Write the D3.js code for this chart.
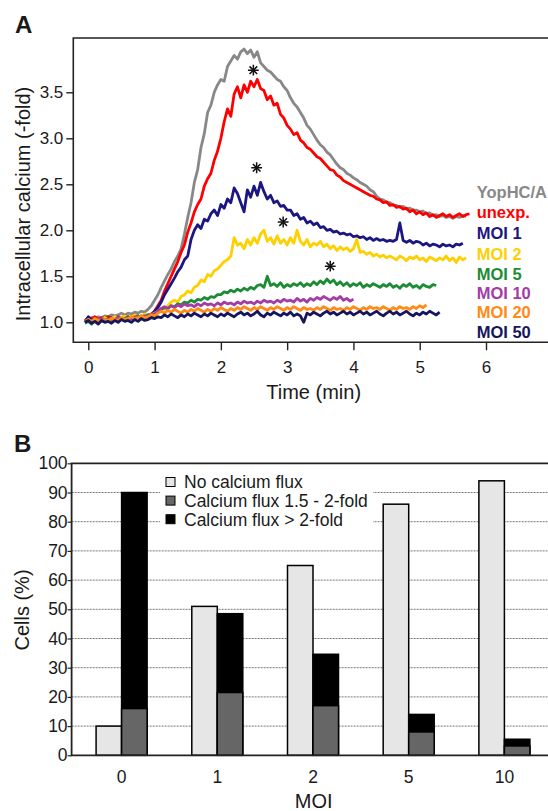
<!DOCTYPE html>
<html lang="en">
<head>
<meta charset="utf-8">
<title>Intracellular calcium</title>
<script src="https://cdn.jsdelivr.net/npm/d3@7"></script>
<style>
  body { margin: 0; background: #fff; }
  svg text { font-family: "Liberation Sans", Arial, Helvetica, sans-serif; fill: #1a1a1a; }
</style>
</head>
<body>
<svg id="chart" width="548" height="811"></svg>
<script>
// ---- Panel A: traces, one value every 0.05 min starting at t = -0.05
const t0 = -0.05;
const dt = 0.05;

const yopHC = [1.00,1.03,1.05,1.04,1.06,1.05,1.07,1.06,1.08,1.07,1.08,1.10,1.08,1.10,1.09,1.11,1.10,1.12,1.11,1.14,1.18,1.24,
  1.30,1.38,1.45,1.52,1.58,1.66,1.72,1.80,1.96,2.14,
  2.30,2.52,2.66,2.90,3.05,3.28,3.36,3.50,3.58,3.64,
  3.62,3.78,3.84,3.90,3.86,3.94,3.97,3.92,3.96,3.88,
  3.94,3.82,3.78,3.74,3.72,3.68,3.64,3.62,3.56,3.52,
  3.44,3.38,3.34,3.28,3.22,3.14,3.10,3.04,2.98,2.93,
  2.90,2.85,2.82,2.77,2.72,2.68,2.66,2.62,2.60,2.57,
  2.55,2.52,2.50,2.48,2.44,2.42,2.37,2.34,2.33,2.30,
  2.30,2.27,2.27,2.25,2.26,2.23,2.24,2.22,2.22,2.20,
  2.21,2.18,2.19,2.16,2.17,2.15,2.16,2.14,2.15,2.13,
  2.15,2.14,2.16,2.15];

const unexp = [1.02,1.05,1.04,1.06,1.03,1.05,1.04,1.06,1.05,1.04,1.06,1.05,1.07,1.05,1.06,1.08,1.06,1.07,1.08,1.07,1.09,1.12,
  1.18,1.24,1.34,1.42,1.50,1.58,1.66,1.76,1.84,1.98,
  2.08,2.20,2.28,2.34,2.48,2.56,2.62,2.76,2.86,3.00,
  3.18,3.32,3.24,3.48,3.56,3.44,3.58,3.50,3.62,3.56,
  3.64,3.54,3.52,3.42,3.46,3.36,3.38,3.26,3.22,3.14,
  3.10,3.04,3.06,2.98,2.95,2.90,2.88,2.84,2.80,2.78,
  2.74,2.70,2.66,2.65,2.60,2.58,2.54,2.52,2.50,2.48,
  2.46,2.44,2.42,2.40,2.38,2.37,2.34,2.33,2.30,2.31,
  2.27,2.28,2.25,2.26,2.23,2.24,2.20,2.22,2.18,2.20,
  2.17,2.19,2.15,2.17,2.14,2.16,2.18,2.15,2.17,2.14,
  2.16,2.18,2.15,2.17,2.18];

const moi1 = [1.00,1.06,1.02,1.04,1.01,1.03,1.02,1.04,1.03,1.02,1.05,1.03,1.04,1.06,1.04,1.05,1.07,1.05,1.06,1.08,1.07,
  1.12,1.16,1.22,1.30,1.36,1.42,1.48,1.55,1.60,1.68,
  1.72,1.90,2.00,2.06,2.02,2.12,2.10,2.18,2.22,2.16,
  2.28,2.24,2.34,2.30,2.46,2.40,2.30,2.20,2.44,2.36,
  2.48,2.38,2.52,2.42,2.34,2.38,2.30,2.32,2.26,2.27,
  2.22,
  2.22,2.16,2.18,2.12,2.14,2.08,2.10,2.06,2.08,2.03,
  2.04,2.00,2.01,1.98,1.99,1.96,1.97,1.95,1.96,1.93,
  1.94,1.92,1.93,1.90,1.92,1.89,1.91,1.89,1.90,1.88,
  1.89,1.88,1.90,2.08,1.89,1.87,1.89,1.86,1.88,1.87,
  1.84,1.86,1.83,1.85,1.84,1.82,1.85,1.83,1.84,1.82,
  1.85,1.84,1.86];

const moi2 = [1.00,1.03,1.01,1.04,1.02,1.03,1.05,1.03,1.04,1.06,1.04,1.05,1.07,1.05,1.06,1.08,1.06,1.07,1.09,1.07,1.08,1.10,
  1.12,1.15,1.14,1.18,1.22,1.24,1.22,1.28,1.30,1.34,
  1.32,1.38,1.40,1.46,1.44,1.52,1.50,1.56,1.58,1.62,
  1.66,1.68,1.72,1.92,1.84,1.86,1.80,1.90,1.84,1.92,
  1.86,1.96,2.00,1.88,1.92,1.85,1.94,1.86,1.90,1.84,
  1.92,1.86,2.00,1.88,1.84,1.90,1.82,1.86,1.84,1.88,
  1.82,1.85,1.80,1.83,1.78,1.82,1.79,1.81,1.77,1.80,
  1.90,1.76,1.77,1.74,1.76,1.72,1.74,1.71,1.73,1.70,
  1.72,1.70,1.68,1.72,1.70,1.67,1.71,1.69,1.72,1.68,
  1.70,1.66,1.71,1.69,1.67,1.70,1.68,1.72,1.67,1.70,
  1.65,1.71,1.68,1.70];

const moi5 = [0.99,1.01,0.98,1.02,1.00,1.03,1.01,1.04,1.02,1.03,1.05,1.03,1.04,1.06,1.04,1.05,1.07,1.05,1.06,1.08,1.07,1.09,
  1.12,1.14,1.16,1.15,1.18,1.17,1.20,1.19,1.22,1.21,
  1.24,1.22,1.25,1.24,1.27,1.25,1.28,1.27,1.30,1.30,
  1.33,1.32,1.35,1.33,1.36,1.34,1.37,1.35,1.38,1.36,
  1.40,1.41,1.38,1.50,1.40,1.42,1.39,1.43,1.38,1.41,
  1.39,1.42,1.40,1.43,1.39,1.42,1.40,1.44,1.41,1.45,
  1.42,1.47,1.43,1.46,1.41,1.44,1.40,1.43,1.39,1.42,
  1.40,1.43,1.38,1.41,1.39,1.42,1.40,1.38,1.41,1.39,
  1.42,1.38,1.40,1.37,1.41,1.39,1.42,1.38,1.40,1.37,
  1.41,1.39,1.38,1.41,1.40];

const moi10 = [1.00,1.02,1.01,1.03,1.02,1.04,1.03,1.02,1.04,1.03,1.05,1.04,1.03,1.05,1.04,1.06,1.05,1.06,1.07,1.06,1.08,1.09,
  1.12,1.15,1.17,1.15,1.18,1.16,1.19,1.17,1.20,1.18,
  1.19,1.17,1.20,1.18,1.21,1.19,1.20,1.18,1.21,1.19,
  1.22,1.20,1.21,1.19,1.22,1.20,1.23,1.21,1.22,1.20,
  1.23,1.21,1.24,1.22,1.23,1.21,1.24,1.22,1.25,1.23,
  1.24,1.22,1.26,1.23,1.25,1.22,1.26,1.24,1.27,1.25,
  1.28,1.26,1.24,1.27,1.25,1.28,1.24,1.26,1.23,1.25];

const moi20 = [1.01,1.03,1.00,1.04,1.02,1.01,1.03,1.02,1.04,1.03,1.02,1.05,1.03,1.04,1.06,1.04,1.05,1.07,1.05,1.06,1.08,1.07,
  1.10,1.12,1.10,1.13,1.11,1.14,1.12,1.10,1.13,1.11,
  1.14,1.12,1.15,1.13,1.11,1.14,1.12,1.15,1.13,1.16,
  1.14,1.12,1.15,1.13,1.16,1.14,1.17,1.15,1.13,1.16,
  1.14,1.17,1.15,1.13,1.16,1.14,1.17,1.15,1.13,1.16,
  1.14,1.17,1.15,1.13,1.16,1.14,1.15,1.13,1.16,1.14,
  1.17,1.15,1.13,1.16,1.14,1.15,1.13,1.16,1.14,1.17,
  1.15,1.13,1.16,1.14,1.17,1.15,1.16,1.14,1.17,1.15,
  1.13,1.16,1.14,1.17,1.15,1.16,1.14,1.17,1.15,1.18,
  1.16,1.19];

const moi50 = [1.00,1.02,0.99,1.01,0.98,1.02,1.00,1.01,0.99,1.02,1.00,1.03,1.01,1.02,1.00,1.03,1.01,1.04,1.02,1.03,1.05,1.04,
  1.06,1.05,1.08,1.06,1.09,1.07,1.05,1.08,1.06,1.09,
  1.07,1.10,1.08,1.06,1.09,1.07,1.10,1.08,1.06,1.09,
  1.07,1.10,1.08,1.06,1.09,1.11,1.08,1.10,1.07,1.09,
  1.12,1.08,1.06,1.10,1.08,1.11,1.09,1.07,1.10,1.08,
  1.11,1.07,1.09,1.07,1.00,1.10,1.08,1.11,1.09,1.07,
  1.10,1.12,1.09,1.11,1.08,1.10,1.12,1.09,1.11,1.08,
  1.10,1.12,1.09,1.11,1.08,1.10,1.12,1.09,1.07,1.10,
  1.12,1.09,1.11,1.08,1.10,1.12,1.09,1.07,1.10,1.08,
  1.11,1.09,1.12,1.10,1.08,1.11];

const traces = [yopHC, unexp, moi1, moi2, moi5, moi10, moi20, moi50];
const traceNames = ["YopHC/A", "unexp.", "MOI 1", "MOI 2", "MOI 5", "MOI 10", "MOI 20", "MOI 50"];
const traceColors = ["#888888", "#ff0000", "#1c1683", "#ffd000", "#1c8c34", "#a33ca6", "#ff8a14", "#16165e"];
const timeTicks = [0, 1, 2, 3, 4, 5, 6];
const foldTicks = [1.0, 1.5, 2.0, 2.5, 3.0, 3.5];
// asterisks: [time, fold]
const stars = [[2.49, 3.74], [2.54, 2.68], [2.94, 2.09], [3.65, 1.61]];

// ---- Panel B
const moiLabels = ["0", "1", "2", "5", "10"];
const noFlux = [10, 51, 65, 86, 94];
const fluxLow = [16, 21.5, 17, 8, 3.2];
const fluxHigh = [74, 27, 17.6, 6, 2.3];
const cellTicks = [0, 10, 20, 30, 40, 50, 60, 70, 80, 90, 100];
const legendNames = ["No calcium flux", "Calcium flux 1.5 - 2-fold", "Calcium flux > 2-fold"];
const barColors = ["#e6e6e6", "#666666", "#000000"];

const svg = d3.select("#chart");
const W = 548;

// =================== Panel A ===================
const xA = d3.scaleLinear().domain([0, 6]).range([88.3, 486]);
const yA = d3.scaleLinear().domain([1, 3.5]).range([322.3, 92.3]);
const a = svg.append("g");

a.append("text").attr("x", 15).attr("y", 33)
  .style("font-size", "24px").style("font-weight", "bold").text("A");

// frame
a.append("path")
  .attr("d", `M${W},38 H73.3 V342.3 H${W}`)
  .attr("fill", "none").attr("stroke", "#222").attr("stroke-width", 1.6);

const axA = a.append("g").attr("transform", "translate(0,342.3)")
  .call(d3.axisBottom(xA).tickValues(timeTicks).tickSize(8).tickPadding(11).tickFormat(d3.format("d")));
axA.select(".domain").remove();
axA.selectAll("line").attr("stroke", "#222").attr("stroke-width", 1.4);
axA.selectAll("text").style("font-size", "17px");

const ayA = a.append("g").attr("transform", "translate(73.3,0)")
  .call(d3.axisLeft(yA).tickValues(foldTicks).tickSize(7).tickPadding(3).tickFormat(d3.format(".1f")));
ayA.select(".domain").remove();
ayA.selectAll("line").attr("stroke", "#222").attr("stroke-width", 1.4);
ayA.selectAll("text").style("font-size", "17px");

a.append("text").attr("x", 313.7).attr("y", 399).attr("text-anchor", "middle")
  .style("font-size", "20px").text("Time (min)");
a.append("text").attr("transform", "translate(23,204) rotate(-90)")
  .attr("text-anchor", "middle").attr("dominant-baseline", "central")
  .style("font-size", "20px").text("Intracellular calcium (-fold)");

const line = d3.line()
  .x((d, i) => xA(t0 + i * dt))
  .y(d => yA(d));

a.selectAll("path.trace").data(traces).enter().append("path")
  .attr("class", "trace")
  .attr("d", line)
  .attr("fill", "none")
  .attr("stroke", (d, i) => traceColors[i])
  .attr("stroke-width", 2.8)
  .attr("stroke-linejoin", "round");

// eight-spoke asterisks
const starG = a.selectAll("g.star").data(stars).enter().append("g")
  .attr("class", "star")
  .attr("transform", d => `translate(${xA(d[0])},${yA(d[1])})`);
starG.append("path").attr("d", d3.symbol(d3.symbolPlus, 40))
  .attr("fill", "none").attr("stroke", "#111").attr("stroke-width", 1.5);
starG.append("path").attr("d", d3.symbol(d3.symbolTimes, 40))
  .attr("fill", "none").attr("stroke", "#111").attr("stroke-width", 1.5);

const legY = [191.7, 211.7, 233.3, 254, 274.3, 293.3, 311.7, 331.7];
a.selectAll("text.leg").data(traceNames).enter().append("text")
  .attr("class", "leg")
  .attr("x", 476.7).attr("y", (d, i) => legY[i] + 6)
  .style("font-size", "16.5px").style("font-weight", "bold")
  .style("fill", (d, i) => traceColors[i])
  .text(d => d);

// =================== Panel B ===================
const xB = d3.scaleBand().domain(moiLabels).range([73.75, 552.25]);
const xSub = d3.scaleBand().domain(["none", "flux"]).range([0, xB.bandwidth()]).paddingOuter(0.876);
const yB = d3.scaleLinear().domain([0, 100]).range([755.3, 463.3]);
const b = svg.append("g");

b.append("text").attr("x", 14).attr("y", 452)
  .style("font-size", "24px").style("font-weight", "bold").text("B");

// gridlines
b.selectAll("line.grid").data(cellTicks.filter(v => v > 0 && v < 100)).enter().append("line")
  .attr("class", "grid")
  .attr("x1", 71.6).attr("x2", W)
  .attr("y1", d => yB(d)).attr("y2", d => yB(d))
  .attr("stroke", "#777").attr("stroke-width", 1).attr("stroke-dasharray", "2,1");

// legend background hides gridlines
b.append("rect").attr("x", 160).attr("y", 471).attr("width", 213).attr("height", 58).attr("fill", "#fff");

const ayB = b.append("g").attr("transform", "translate(71.6,0)")
  .call(d3.axisLeft(yB).tickValues(cellTicks).tickSize(4).tickPadding(0));
ayB.select(".domain").remove();
ayB.selectAll("line").attr("stroke", "#222").attr("stroke-width", 1.2);
ayB.selectAll("text").style("font-size", "17.5px");

const axB = b.append("g").attr("transform", "translate(0,755.3)")
  .call(d3.axisBottom(xB).tickSize(0).tickPadding(15.5));
axB.select(".domain").remove();
axB.selectAll("text").style("font-size", "17.5px");

// bars
const groups = b.selectAll("g.grp").data(moiLabels).enter().append("g")
  .attr("class", "grp").attr("transform", d => `translate(${xB(d)},0)`);

groups.append("rect")
  .attr("x", xSub("none")).attr("width", xSub.bandwidth())
  .attr("y", (d, i) => yB(noFlux[i])).attr("height", (d, i) => yB(0) - yB(noFlux[i]))
  .attr("fill", barColors[0]).attr("stroke", "#000").attr("stroke-width", 1.5);

groups.append("rect")
  .attr("x", xSub("flux")).attr("width", xSub.bandwidth())
  .attr("y", (d, i) => yB(fluxLow[i] + fluxHigh[i])).attr("height", (d, i) => yB(0) - yB(fluxLow[i] + fluxHigh[i]))
  .attr("fill", barColors[2]).attr("stroke", "#000").attr("stroke-width", 1.5);

groups.append("rect")
  .attr("x", xSub("flux")).attr("width", xSub.bandwidth())
  .attr("y", (d, i) => yB(fluxLow[i])).attr("height", (d, i) => yB(0) - yB(fluxLow[i]))
  .attr("fill", barColors[1]).attr("stroke", "#000").attr("stroke-width", 1.5);

// frame
b.append("path")
  .attr("d", `M${W},463.3 H71.6 V755.3 H${W}`)
  .attr("fill", "none").attr("stroke", "#222").attr("stroke-width", 1.8);

// legend
const legB = b.selectAll("g.legB").data(legendNames).enter().append("g")
  .attr("class", "legB").attr("transform", (d, i) => `translate(166,${482 + i * 18.6})`);
legB.append("rect").attr("x", 0).attr("y", -4.5).attr("width", 9).attr("height", 9)
  .attr("fill", (d, i) => barColors[i]).attr("stroke", "#000").attr("stroke-width", 1);
legB.append("text").attr("x", 18).attr("y", 6.3).style("font-size", "17.5px").text(d => d);

b.append("text").attr("x", 313.7).attr("y", 808).attr("text-anchor", "middle")
  .style("font-size", "20px").text("MOI");
b.append("text").attr("transform", "translate(22,610) rotate(-90)")
  .attr("text-anchor", "middle").attr("dominant-baseline", "central")
  .style("font-size", "20px").text("Cells (%)");
</script>
</body>
</html>
